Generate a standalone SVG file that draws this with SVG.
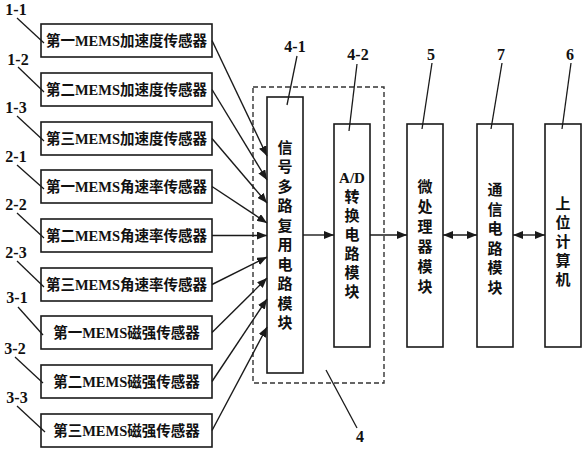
<svg xmlns="http://www.w3.org/2000/svg" width="583" height="450" viewBox="0 0 583 450">
<style>
.box{fill:#fff;stroke:#1a1a1a;stroke-width:1.6}
.ln{fill:none;stroke:#1a1a1a;stroke-width:1.3}
.con{fill:none;stroke:#1a1a1a;stroke-width:1.4}
.t{font-family:"Liberation Serif","Noto Sans CJK SC",serif;font-weight:bold;font-size:14.5px;fill:#111;text-anchor:middle;dominant-baseline:central}
.v{font-family:"Liberation Serif","Noto Sans CJK SC",serif;font-weight:bold;font-size:15px;fill:#111;text-anchor:middle;dominant-baseline:central}
.lb{font-family:"Liberation Serif","Noto Sans CJK SC",serif;font-weight:bold;font-size:16px;fill:#111;text-anchor:middle}
</style>
<defs>
<marker id="ah" markerUnits="userSpaceOnUse" markerWidth="10" markerHeight="8" refX="10" refY="4" orient="auto-start-reverse">
<path d="M0,0 L10,4 L0,8 z" fill="#1a1a1a"/>
</marker>
</defs>
<rect width="583" height="450" fill="#fff"/>

<!-- dashed group 4 -->
<g id="group4">
<rect x="253" y="87" width="131" height="296" fill="none" stroke="#333" stroke-width="1.4" stroke-dasharray="5,3"/>
<text class="lb" x="360" y="442">4</text>
<line class="ln" x1="326" y1="370" x2="357" y2="428"/>
</g>

<g id="s1-1">
<rect class="box" x="41" y="24" width="171" height="33"/>
<text class="t" x="126.5" y="40.5">第一MEMS加速度传感器</text>
<text class="lb" x="16" y="15">1-1</text>
<line class="ln" x1="17" y1="18" x2="44" y2="43"/>
</g>
<g id="s1-2">
<rect class="box" x="41" y="73" width="171" height="33"/>
<text class="t" x="126.5" y="89.5">第二MEMS加速度传感器</text>
<text class="lb" x="18" y="65">1-2</text>
<line class="ln" x1="18" y1="67" x2="44" y2="92"/>
</g>
<g id="s1-3">
<rect class="box" x="41" y="122" width="171" height="33"/>
<text class="t" x="126.5" y="138.5">第三MEMS加速度传感器</text>
<text class="lb" x="16" y="113">1-3</text>
<line class="ln" x1="17" y1="116" x2="44" y2="141"/>
</g>
<g id="s2-1">
<rect class="box" x="41" y="170" width="171" height="33"/>
<text class="t" x="126.5" y="186.5">第一MEMS角速率传感器</text>
<text class="lb" x="16" y="162">2-1</text>
<line class="ln" x1="17" y1="165" x2="44" y2="189"/>
</g>
<g id="s2-2">
<rect class="box" x="41" y="219" width="171" height="33"/>
<text class="t" x="126.5" y="235.5">第二MEMS角速率传感器</text>
<text class="lb" x="16" y="210">2-2</text>
<line class="ln" x1="17" y1="213" x2="44" y2="238"/>
</g>
<g id="s2-3">
<rect class="box" x="41" y="268" width="171" height="33"/>
<text class="t" x="126.5" y="284.5">第三MEMS角速率传感器</text>
<text class="lb" x="16" y="258">2-3</text>
<line class="ln" x1="17" y1="261" x2="44" y2="287"/>
</g>
<g id="s3-1">
<rect class="box" x="41" y="316" width="171" height="33"/>
<text class="t" x="126.5" y="332.5">第一MEMS磁强传感器</text>
<text class="lb" x="17" y="303">3-1</text>
<line class="ln" x1="18" y1="307" x2="43" y2="335"/>
</g>
<g id="s3-2">
<rect class="box" x="41" y="365" width="171" height="33"/>
<text class="t" x="126.5" y="381.5">第二MEMS磁强传感器</text>
<text class="lb" x="15" y="354">3-2</text>
<line class="ln" x1="15" y1="357" x2="43" y2="383"/>
</g>
<g id="s3-3">
<rect class="box" x="41" y="414" width="171" height="33"/>
<text class="t" x="126.5" y="430.5">第三MEMS磁强传感器</text>
<text class="lb" x="17" y="403">3-3</text>
<line class="ln" x1="17" y1="406" x2="45" y2="432"/>
</g>

<g id="mux">
<rect class="box" x="267" y="97" width="36" height="276"/>
<g class="v">
<text x="285" y="148">信</text><text x="285" y="167">号</text><text x="285" y="186.5">多</text><text x="285" y="206">路</text><text x="285" y="225.5">复</text><text x="285" y="245">用</text><text x="285" y="264.5">电</text><text x="285" y="284">路</text><text x="285" y="303.5">模</text><text x="285" y="323">块</text>
</g>
<text class="lb" x="295" y="52">4-1</text>
<line class="ln" x1="297" y1="56" x2="287" y2="105"/>
</g>

<g id="adc">
<rect class="box" x="334" y="124" width="36" height="223"/>
<g class="v">
<text x="352" y="178">A/D</text><text x="352" y="197">转</text><text x="352" y="216">换</text><text x="352" y="235">电</text><text x="352" y="254">路</text><text x="352" y="273">模</text><text x="352" y="292">块</text>
</g>
<text class="lb" x="358" y="60">4-2</text>
<line class="ln" x1="357" y1="64" x2="349" y2="131"/>
</g>

<g id="mcu">
<rect class="box" x="407" y="124" width="36" height="223"/>
<g class="v">
<text x="425" y="187">微</text><text x="425" y="207">处</text><text x="425" y="227">理</text><text x="425" y="247">器</text><text x="425" y="267">模</text><text x="425" y="287">块</text>
</g>
<text class="lb" x="431" y="60">5</text>
<line class="ln" x1="432" y1="63" x2="422" y2="129"/>
</g>

<g id="comm">
<rect class="box" x="477" y="124" width="36" height="223"/>
<g class="v">
<text x="495" y="190">通</text><text x="495" y="209.5">信</text><text x="495" y="229">电</text><text x="495" y="248.5">路</text><text x="495" y="268">模</text><text x="495" y="287.5">块</text>
</g>
<text class="lb" x="501" y="60">7</text>
<line class="ln" x1="502" y1="63" x2="491" y2="129"/>
</g>

<g id="pc">
<rect class="box" x="545" y="124" width="36" height="223"/>
<g class="v">
<text x="563" y="204">上</text><text x="563" y="223">位</text><text x="563" y="242">计</text><text x="563" y="261">算</text><text x="563" y="280">机</text>
</g>
<text class="lb" x="570" y="60">6</text>
<line class="ln" x1="571" y1="63" x2="562" y2="129"/>
</g>

<g id="connectors">
<line class="con" x1="212" y1="40.5" x2="267" y2="156" marker-end="url(#ah)"/>
<line class="con" x1="212" y1="89.5" x2="267" y2="180" marker-end="url(#ah)"/>
<line class="con" x1="212" y1="138.5" x2="267" y2="203" marker-end="url(#ah)"/>
<line class="con" x1="212" y1="186.5" x2="267" y2="223" marker-end="url(#ah)"/>
<line class="con" x1="212" y1="235.5" x2="267" y2="235.5" marker-end="url(#ah)"/>
<line class="con" x1="212" y1="284.5" x2="267" y2="257" marker-end="url(#ah)"/>
<line class="con" x1="212" y1="332.5" x2="267" y2="278" marker-end="url(#ah)"/>
<line class="con" x1="212" y1="381.5" x2="267" y2="299" marker-end="url(#ah)"/>
<line class="con" x1="212" y1="430.5" x2="267" y2="327" marker-end="url(#ah)"/>
<line class="con" x1="303" y1="235" x2="334" y2="235" marker-end="url(#ah)"/>
<line class="con" x1="370" y1="235" x2="407" y2="235" marker-end="url(#ah)"/>
<line class="con" x1="443" y1="235" x2="477" y2="235" marker-start="url(#ah)" marker-end="url(#ah)"/>
<line class="con" x1="513" y1="235" x2="545" y2="235" marker-start="url(#ah)" marker-end="url(#ah)"/>
</g>
</svg>
